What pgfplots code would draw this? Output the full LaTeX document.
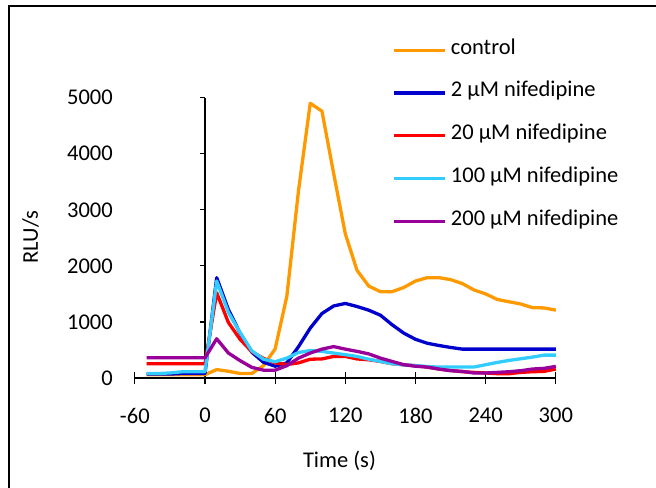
\documentclass[border=0pt]{standalone}
\usepackage{fontspec}
\setmainfont{Carlito}
\usepackage{pgfplots}
\pgfplotsset{compat=1.18}
\definecolor{cOrange}{HTML}{FF9900}
\definecolor{cBlue}{HTML}{0000CC}
\definecolor{cRed}{HTML}{FF0000}
\definecolor{cCyan}{HTML}{33CCFF}
\definecolor{cPurple}{HTML}{990099}
\pgfplotsset{
  base/.style={
    at={(205bp,110bp)}, anchor=origin,
    scale only axis, width=421bp, height=280.3bp,
    xmin=-60, xmax=300, ymin=0, ymax=5000,
    enlargelimits=false, clip=false,
    tick style={black, line width=1.2bp},
    /pgf/number format/assume math mode=true,
    /pgf/number format/set thousands separator={},
    hide obscured x ticks=false, hide obscured y ticks=false,
    tick label style={font=\fontsize{22.5bp}{27bp}\selectfont},
    label style={font=\fontsize{22.5bp}{27bp}\selectfont},
  },
  noarrows/.style={
    axis line style={-, line width=1.2bp},
    every inner x axis line/.append style={-},
    every inner y axis line/.append style={-},
    every outer x axis line/.append style={-},
    every outer y axis line/.append style={-},
    x axis line style={-}, y axis line style={-},
  }
}
\begin{document}
\begin{tikzpicture}[font=\fontsize{22.5bp}{27bp}\selectfont]
\useasboundingbox (0,0) rectangle (656bp,488bp);
\draw[line width=2bp] (9bp,-20bp) rectangle (700bp,482bp);
% x axis
\begin{axis}[base,
  axis x line=middle, axis y line=none, noarrows,
  xtick={-60,0,60,120,180,240,300},
  tick align=center, major tick length=12bp,
  xticklabel style={anchor=north, inner sep=0pt, yshift=-24bp},
  xlabel={Time (s)},
  xlabel style={at={(axis description cs:0.486,-0.296)}, anchor=center},
]
\end{axis}
% y axis and data
\begin{axis}[base,
  axis x line=none, axis y line=middle, noarrows,
  ytick={0,1000,2000,3000,4000,5000},
  tick align=outside, major tick length=5bp,
  yticklabel style={anchor=east, inner sep=0pt, xshift=-87bp},
  ylabel={RLU/s},
  ylabel style={at={(axis description cs:-0.248,0.503)}, anchor=center, rotate=90},
  legend style={draw=none, fill=none, at={(axis description cs:0.6114,0.8645)}, anchor=west,
    inner sep=0pt, row sep=26.75bp, column sep=4.2bp,
    nodes={inner sep=0pt, text height=12bp, text depth=4bp},
    font=\fontsize{22.5bp}{27bp}\selectfont},
  legend cell align=left,
  legend image code/.code={\draw[#1] (0bp,0bp) -- (51bp,0bp);},
  every axis plot/.append style={line width=3.3bp, line join=round},
]
\addplot[cOrange] coordinates {(-50,60)(-40,60)(-30,60)(-20,60)(-10,60)(0,60)(10,150)(20,120)(30,80)(40,80)(50,220)(60,520)(70,1460)(80,3350)(90,4900)(100,4760)(110,3650)(120,2570)(130,1920)(140,1640)(150,1540)(160,1540)(170,1615)(180,1730)(190,1790)(200,1790)(210,1755)(220,1685)(230,1570)(240,1500)(250,1400)(260,1360)(270,1320)(280,1255)(290,1250)(300,1210)};
\addlegendentry{control}
\addplot[cBlue] coordinates {(-50,70)(-40,70)(-30,70)(-20,80)(-10,80)(0,80)(10,1790)(20,1220)(30,800)(40,460)(50,280)(60,210)(70,270)(80,560)(90,890)(100,1150)(110,1285)(120,1330)(130,1275)(140,1210)(150,1120)(160,950)(170,800)(180,690)(190,620)(200,580)(210,545)(220,515)(230,515)(240,515)(250,515)(260,515)(270,515)(280,515)(290,515)(300,515)};
\addlegendentry{2 µM nifedipine}
\addplot[cRed] coordinates {(-50,255)(-40,255)(-30,255)(-20,255)(-10,255)(0,255)(10,1520)(20,990)(30,690)(40,470)(50,350)(60,270)(70,240)(80,270)(90,335)(100,340)(110,385)(120,385)(130,340)(140,325)(150,295)(160,255)(170,235)(180,220)(190,195)(200,160)(210,135)(220,112)(230,100)(240,90)(250,77)(260,77)(270,100)(280,112)(290,118)(300,160)};
\addlegendentry{20 µM nifedipine}
\addplot[cCyan] coordinates {(-50,80)(-40,80)(-30,90)(-20,110)(-10,110)(0,110)(10,1730)(20,1170)(30,810)(40,485)(50,335)(60,290)(70,355)(80,455)(90,490)(100,475)(110,445)(120,415)(130,385)(140,335)(150,295)(160,255)(170,235)(180,220)(190,205)(200,195)(210,195)(220,195)(230,195)(240,237)(250,278)(260,314)(270,343)(280,373)(290,408)(300,408)};
\addlegendentry{100 µM nifedipine}
\addplot[cPurple] coordinates {(-50,360)(-40,360)(-30,360)(-20,360)(-10,360)(0,360)(10,700)(20,445)(30,310)(40,190)(50,140)(60,140)(70,220)(80,355)(90,445)(100,515)(110,560)(120,515)(130,475)(140,430)(150,355)(160,295)(170,237)(180,210)(190,195)(200,160)(210,130)(220,118)(230,89)(240,89)(250,100)(260,112)(270,130)(280,160)(290,172)(300,207)};
\addlegendentry{200 µM nifedipine}
\end{axis}
\end{tikzpicture}
\end{document}
